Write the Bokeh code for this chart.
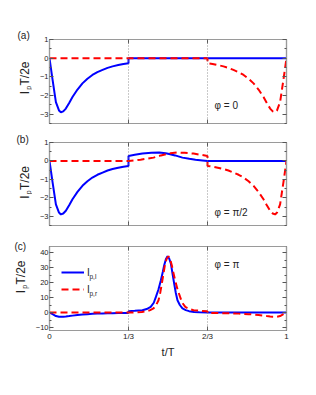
import numpy as np
from bokeh.plotting import figure
from bokeh.layouts import column, row
from bokeh.core.properties import value
from bokeh.models import (Range1d, FixedTicker, LinearAxis, Span, Label, Legend,
                          LegendItem, CustomJSTickFormatter)
from bokeh.embed import file_html
from bokeh.resources import INLINE

# ---------------- data ----------------
# shared dip of I_p,l in the first third of the period
t_dip = [0.0, 0.005, 0.013, 0.027, 0.040, 0.048, 0.058, 0.069, 0.083, 0.097, 0.118,
         0.139, 0.160, 0.181, 0.202, 0.224, 0.245, 0.266, 0.290, 0.312, 0.3333]
i_dip = [0.0, -0.45, -1.16, -2.35, -2.80, -2.90, -2.85, -2.70, -2.40, -2.08, -1.68,
         -1.35, -1.10, -0.90, -0.75, -0.63, -0.52, -0.44, -0.37, -0.31, -0.27]
# shared dip of I_p,r in the last third of the period
t_dip_r = [0.6667, 0.688, 0.710, 0.734, 0.755, 0.776, 0.798, 0.819, 0.840, 0.861, 0.882,
           0.903, 0.917, 0.931, 0.942, 0.952, 0.960, 0.973, 0.987, 0.995, 1.0]
i_dip_r = [-0.27, -0.31, -0.37, -0.44, -0.52, -0.63, -0.75, -0.90, -1.10, -1.35, -1.68,
           -2.08, -2.40, -2.70, -2.85, -2.90, -2.80, -2.35, -1.16, -0.45, 0.0]

# panel (a): phi = 0
t_a_l_rest = [0.3334, 1.0]
i_a_l_rest = [0.0, 0.0]
t_a_r_start = [0.0, 0.6666]
i_a_r_start = [0.0, 0.0]

# panel (b): phi = pi/2
t_b_l_mid = [0.3334, 0.36, 0.392, 0.43, 0.463, 0.49, 0.505, 0.53, 0.561, 0.59, 0.616, 0.645, 0.6667, 1.0]
i_b_l_mid = [0.27, 0.33, 0.40, 0.44, 0.46, 0.42, 0.38, 0.30, 0.18, 0.12, 0.07, 0.03, 0.0, 0.0]
t_b_r_mid = [0.0, 0.3333, 0.355, 0.384, 0.41, 0.439, 0.47, 0.495, 0.51, 0.537, 0.57, 0.608, 0.64, 0.6666]
i_b_r_mid = [0.0, 0.0, 0.03, 0.07, 0.12, 0.18, 0.30, 0.38, 0.42, 0.46, 0.44, 0.40, 0.33, 0.27]

# panel (c): phi = pi
t_c_l_mid = [0.3334, 0.36, 0.392, 0.41, 0.427, 0.44, 0.449, 0.46, 0.470, 0.478, 0.484, 0.491,
             0.498, 0.505, 0.512, 0.519, 0.526, 0.533, 0.540, 0.55, 0.561, 0.575, 0.589,
             0.61, 0.632, 0.6667, 1.0]
i_c_l_mid = [0.9, 1.1, 1.5, 2.3, 3.7, 6.5, 10.4, 15.5, 21.5, 27.0, 31.5, 35.5,
             37.5, 36.0, 32.7, 26.0, 19.3, 13.0, 8.2, 5.0, 2.7, 1.6, 0.9,
             0.4, 0.1, 0.0, 0.0]
t_c_r_mid = [0.0, 0.3333, 0.368, 0.39, 0.411, 0.425, 0.439, 0.45, 0.46, 0.467, 0.474, 0.481,
             0.488, 0.495, 0.502, 0.509, 0.516, 0.522, 0.53, 0.54, 0.551, 0.56, 0.573,
             0.59, 0.608, 0.64, 0.6666]
i_c_r_mid = [0.0, 0.0, 0.1, 0.4, 0.9, 1.6, 2.7, 5.0, 8.2, 13.0, 19.3, 26.0,
             32.7, 36.0, 37.5, 35.5, 31.5, 27.0, 21.5, 15.5, 10.4, 6.5, 3.7,
             2.3, 1.5, 1.1, 0.9]

x_ticks = [0.0, 1 / 3, 2 / 3, 1.0]
x_tick_labels = ["0", "1/3", "2/3", "1"]
panel_tags = ["(a)", "(b)", "(c)"]
phase_labels = ["\u03c6 = 0", "\u03c6 = \u03c0/2", "\u03c6 = \u03c0"]
legend_subs = ["p,l", "p,r"]

# ---------------- layout constants ----------------
FONT = "Liberation Sans"
BLUE = "#0000ff"
RED = "#ff0000"
FRAME_GRAY = "#9a9a9a"
TEXT = "#222222"
STRIP = 32          # width of the left text strip (page px)
FL, FW = 48, 237    # frame left & width (page px)
FRAMES = {"a": (39, 84, -3.5, 1.0), "b": (142, 83, -3.5, 1.0), "c": (246, 84, -12.0, 44.0)}
TOTAL_H = 360


def to_data(panel, px, py):
    top, h, y0, y1 = FRAMES[panel]
    return (px - FL) / FW, y1 - (py - top) / h * (y1 - y0)


x_fmt = CustomJSTickFormatter(args=dict(t=x_ticks, l=x_tick_labels), code="""
for (let k = 0; k < t.length; k++) { if (Math.abs(tick - t[k]) < 1e-6) return l[k]; }
return '';
""")
blank_fmt = CustomJSTickFormatter(code="return '';")


def style_axis(ax, labels):
    ax.axis_line_color = FRAME_GRAY
    ax.axis_line_width = 1.2
    ax.major_tick_line_color = "#555555"
    ax.minor_tick_line_color = "#555555"
    ax.major_tick_in = 4
    ax.major_tick_out = 0
    ax.minor_tick_in = 2
    ax.minor_tick_out = 0
    ax.major_label_text_font = FONT
    ax.major_label_text_font_size = "7.5px"
    ax.major_label_text_color = TEXT
    ax.major_label_standoff = 1
    if not labels:
        ax.formatter = blank_fmt


def make_panel(key, idx, bt, bb, yticks, yminor, show_x):
    top, h, y0, y1 = FRAMES[key]
    p = figure(frame_width=FW, frame_height=h, x_range=Range1d(0, 1), y_range=Range1d(y0, y1),
               output_backend="svg", toolbar_location=None,
               min_border_left=FL - STRIP, min_border_right=20, min_border_top=bt, min_border_bottom=bb)
    p.xgrid.visible = False
    p.ygrid.visible = False
    p.outline_line_color = FRAME_GRAY
    p.outline_line_width = 1.2

    xt = FixedTicker(ticks=x_ticks, minor_ticks=[])
    yt = FixedTicker(ticks=yticks, minor_ticks=yminor)
    p.xaxis.ticker = xt
    p.yaxis.ticker = yt
    style_axis(p.xaxis[0], show_x)
    if show_x:
        p.xaxis.formatter = x_fmt
        p.xaxis.major_label_text_font_size = "8px"
        p.xaxis.major_label_standoff = 1
        p.xaxis.axis_label = "t/T"
        p.xaxis.axis_label_text_font = FONT
        p.xaxis.axis_label_text_font_size = "11px"
        p.xaxis.axis_label_text_font_style = "normal"
        p.xaxis.axis_label_text_color = TEXT
        p.xaxis.axis_label_standoff = 2
    style_axis(p.yaxis[0], True)
    ra = LinearAxis(ticker=yt)
    style_axis(ra, False)
    p.add_layout(ra, "right")
    ta = LinearAxis(ticker=xt)
    style_axis(ta, False)
    p.add_layout(ta, "above")

    for loc in (1 / 3, 2 / 3):
        p.add_layout(Span(location=loc, dimension="height", line_color="#777777",
                          line_width=0.8, line_dash="1 2"))

    x, y = to_data(key, 213, [105, 211.7, 264][idx])
    p.add_layout(Label(x=x, y=y, text=phase_labels[idx], text_font=FONT, text_font_size="10px",
                       text_color=TEXT, text_align="left", text_baseline="middle"))
    return p


pa = make_panel("a", 0, 39, 9, [-3, -2, -1, 0, 1], [-3.5, -2.5, -1.5, -0.5, 0.5], False)
pb = make_panel("b", 1, 10, 10, [-3, -2, -1, 0, 1], [-3.5, -2.5, -1.5, -0.5, 0.5], False)
pc = make_panel("c", 2, 11, 30, [-10, 0, 10, 20, 30, 40], [-5, 5, 15, 25, 35], True)

# panel (a)
pa.line(t_dip + t_a_l_rest, i_dip + i_a_l_rest, line_color=BLUE, line_width=2)
pa.line(t_a_r_start + t_dip_r, i_a_r_start + i_dip_r, line_color=RED, line_width=2, line_dash="7 4")
# panel (b)
pb.line(t_dip + t_b_l_mid, i_dip + i_b_l_mid, line_color=BLUE, line_width=2)
pb.line(t_b_r_mid + t_dip_r, i_b_r_mid + i_dip_r, line_color=RED, line_width=2, line_dash="7 4")
# panel (c)
rb = pc.line(t_dip + t_c_l_mid, i_dip + i_c_l_mid, line_color=BLUE, line_width=2)
rr = pc.line(t_c_r_mid + t_dip_r, i_c_r_mid + i_dip_r, line_color=RED, line_width=2, line_dash="7 4")

legend = Legend(items=[LegendItem(label="I", renderers=[rb]), LegendItem(label="I", renderers=[rr])],
                location=(12, 34), padding=0, margin=0, spacing=3, glyph_width=23, glyph_height=14,
                label_height=14, label_standoff=3, label_text_font=FONT, label_text_font_size="10px",
                label_text_color=TEXT, border_line_alpha=0, background_fill_alpha=0)
pc.add_layout(legend)
for sub, py in zip(legend_subs, (276, 292.7)):
    x, y = to_data("c", 88, py)
    pc.add_layout(Label(x=x, y=y, text=sub, text_font=FONT, text_font_size="6.5px", text_color=TEXT,
                        text_align="left", text_baseline="middle"))

# ---------------- left strip holding panel tags and y-axis labels ----------------
strip = figure(frame_width=STRIP, frame_height=TOTAL_H, x_range=Range1d(0, STRIP),
               y_range=Range1d(TOTAL_H, 0), x_axis_location=None, y_axis_location=None,
               toolbar_location=None, output_backend="svg", min_border=0,
               min_border_left=0, min_border_right=0, min_border_top=0, min_border_bottom=0,
               outline_line_color=None)
strip.xgrid.visible = False
strip.ygrid.visible = False

tag_x = [17, 16, 14]
tag_y = [35, 139, 246]
strip.text(x=tag_x, y=tag_y, text=panel_tags, text_font=value(FONT), text_font_size=value("10px"),
           text_color=TEXT, text_align="left", text_baseline="middle")

lab_x = [24, 24, 20]
lab_y = [92, 196.5, 291]
strip.text(x=lab_x, y=lab_y, text=["I"] * 3, angle=np.pi / 2, text_font=value(FONT),
           text_font_size=value("12px"), text_color=TEXT, text_align="center", text_baseline="middle")
strip.text(x=[v + 4.3 for v in lab_x], y=[v - 4.7 for v in lab_y], text=["p"] * 3, angle=np.pi / 2,
           text_font=value(FONT), text_font_size=value("7px"), text_color=TEXT,
           text_align="center", text_baseline="middle")
strip.text(x=[v + 0.5 for v in lab_x], y=[v - 7.0 for v in lab_y], text=["T/2e"] * 3, angle=np.pi / 2,
           text_font=value(FONT), text_font_size=value("12px"), text_color=TEXT,
           text_align="left", text_baseline="middle")

layout = row(strip, column(pa, pb, pc, spacing=0), spacing=0)
open("out.html", "w").write(file_html(layout, INLINE))
